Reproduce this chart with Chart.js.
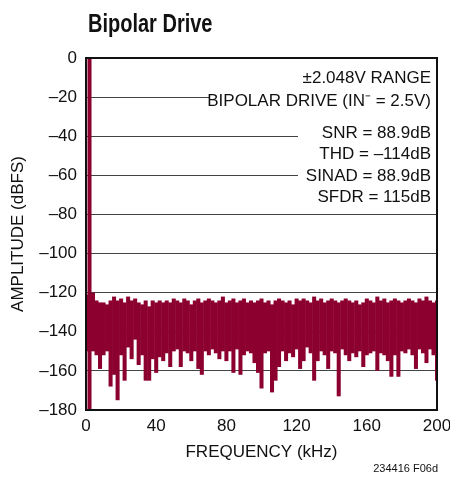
<!DOCTYPE html>
<html>
<head>
<meta charset="utf-8">
<script src="https://cdn.jsdelivr.net/npm/chart.js@4.4.1/dist/chart.umd.min.js"></script>
<style>
  html, body { margin: 0; padding: 0; background: #fff; }
  canvas { display: block; }
</style>
</head>
<body>
<canvas id="fftChart" width="450" height="477"></canvas>
<script>
// FFT bins, 2 kHz apart
const freqs = [];
for (let f = 0; f <= 200; f += 2) freqs.push(f);

// top of the noise in each bin (dBFS)
const binHigh = [
  -121, 0, -120, -124, -125, -125, -126, -124, -122, -124,
  -123, -125, -122, -124, -123, -125, -126, -124, -127, -124,
  -125, -124, -125, -124, -125, -123, -124, -125, -123, -124,
  -126, -124, -123, -125, -124, -123, -124, -125, -124, -122,
  -125, -124, -123, -125, -124, -123, -125, -124, -125, -124,
  -123, -125, -124, -126, -124, -123, -124, -125, -124, -126,
  -123, -124, -123, -124, -125, -122, -124, -123, -125, -124,
  -123, -124, -125, -124, -123, -124, -125, -124, -126, -125,
  -123, -124, -125, -122, -124, -123, -125, -124, -123, -124,
  -125, -124, -123, -124, -125, -123, -124, -122, -124, -125,
  -124
];

// bottom of the noise in each bin (dBFS)
const binLow = [
  -150, -180, -150, -152, -159, -152, -150, -168, -162, -175,
  -152, -165, -148, -154, -144, -157, -152, -165, -165, -154,
  -161, -153, -155, -151, -158, -150, -149, -158, -150, -151,
  -155, -150, -159, -162, -150, -152, -149, -151, -154, -150,
  -155, -150, -161, -149, -162, -152, -150, -151, -156, -161,
  -169, -151, -150, -171, -165, -158, -150, -155, -151, -153,
  -149, -159, -155, -148, -151, -165, -155, -150, -152, -159,
  -150, -151, -173, -149, -152, -155, -151, -153, -150, -158,
  -152, -151, -150, -160, -151, -152, -155, -163, -152, -163,
  -150, -151, -149, -152, -159, -149, -151, -156, -149, -152,
  -165
];

const yTicks = [0, -20, -40, -60, -80, -100, -120, -140, -160, -180];
const xTicks = [0, 40, 80, 120, 160, 200];

const notesTop = ['\u00B12.048V RANGE', 'BIPOLAR DRIVE (IN\u207B = 2.5V)'];
const notesBottom = ['SNR = 88.9dB', 'THD = \u2013114dB', 'SINAD = 88.9dB', 'SFDR = 115dB'];

const FONT = '"Liberation Sans", Arial, sans-serif';
const RED = '#8c0030';

const decor = {
  id: 'decor',
  beforeDatasetsDraw(chart) {
    const ctx = chart.ctx;
    const y = chart.scales.y;
    const a = chart.chartArea;
    // white boxes hiding the grid lines behind the notes
    ctx.save();
    ctx.fillStyle = '#fff';
    ctx.fillRect(209, y.getPixelForValue(-20) - 10, a.right - 209 - 1, 20);
    ctx.fillRect(298, y.getPixelForValue(-40) - 10, a.right - 298 - 1, 20);
    ctx.fillRect(298, y.getPixelForValue(-60) - 10, a.right - 298 - 1, 20);
    ctx.restore();
  },
  afterDraw(chart) {
    const ctx = chart.ctx;
    const a = chart.chartArea;
    ctx.save();
    // frame
    ctx.strokeStyle = '#111';
    ctx.lineWidth = 2;
    ctx.strokeRect(a.left, a.top, a.right - a.left, a.bottom - a.top);

    ctx.fillStyle = '#111';
    ctx.textBaseline = 'middle';

    // title (squeezed to look like the condensed original)
    ctx.save();
    ctx.font = 'bold 25px ' + FONT;
    ctx.textAlign = 'left';
    ctx.translate(88, 25);
    ctx.scale(0.8, 1);
    ctx.fillText('Bipolar Drive', 0, 0);
    ctx.restore();

    // notes
    ctx.font = '17px ' + FONT;
    ctx.textAlign = 'right';
    const rx = a.right - 6;
    notesTop.forEach((t, i) => ctx.fillText(t, rx, 78 + i * 23));
    notesBottom.forEach((t, i) => ctx.fillText(t, rx, 133 + i * 21.5));

    // axis titles
    ctx.textAlign = 'center';
    ctx.fillText('FREQUENCY (kHz)', (a.left + a.right) / 2, 452);
    ctx.save();
    ctx.translate(18, (a.top + a.bottom) / 2);
    ctx.rotate(-Math.PI / 2);
    ctx.fillText('AMPLITUDE (dBFS)', 0, 0);
    ctx.restore();

    // figure id
    ctx.font = '11px ' + FONT;
    ctx.textAlign = 'right';
    ctx.fillText('234416 F06d', 438, 469);
    ctx.restore();
  }
};

new Chart(document.getElementById('fftChart').getContext('2d'), {
  type: 'bar',
  data: {
    datasets: [{
      data: freqs.map((f, i) => ({ x: f, y: [binLow[i], binHigh[i]] })),
      backgroundColor: RED,
      borderColor: RED,
      borderWidth: 0,
      barPercentage: 1.15,
      categoryPercentage: 1
    }]
  },
  options: {
    responsive: false,
    animation: false,
    layout: { padding: { top: 58, right: 13, left: 0, bottom: 0 } },
    plugins: { legend: { display: false }, tooltip: { enabled: false } },
    scales: {
      x: {
        type: 'linear',
        min: 0,
        max: 200,
        offset: false,
        afterFit(s) { s.height = 67; s.paddingLeft = 0; s.paddingRight = 0; },
        afterBuildTicks(s) { s.ticks = xTicks.map(v => ({ value: v })); },
        grid: { display: false, drawTicks: false, offset: false },
        border: { display: false },
        ticks: { color: '#111', font: { family: FONT, size: 17 }, padding: 6, maxRotation: 0 }
      },
      y: {
        min: -180,
        max: 0,
        afterFit(s) { s.width = 86; s.paddingTop = 0; s.paddingBottom = 0; },
        afterBuildTicks(s) { s.ticks = yTicks.map(v => ({ value: v })); },
        grid: { color: '#444', lineWidth: 1, drawTicks: false },
        border: { display: false },
        ticks: {
          color: '#111',
          font: { family: FONT, size: 17 },
          padding: 9,
          callback: v => String(v).replace('-', '\u2013')
        }
      }
    }
  },
  plugins: [decor]
});
</script>
</body>
</html>
